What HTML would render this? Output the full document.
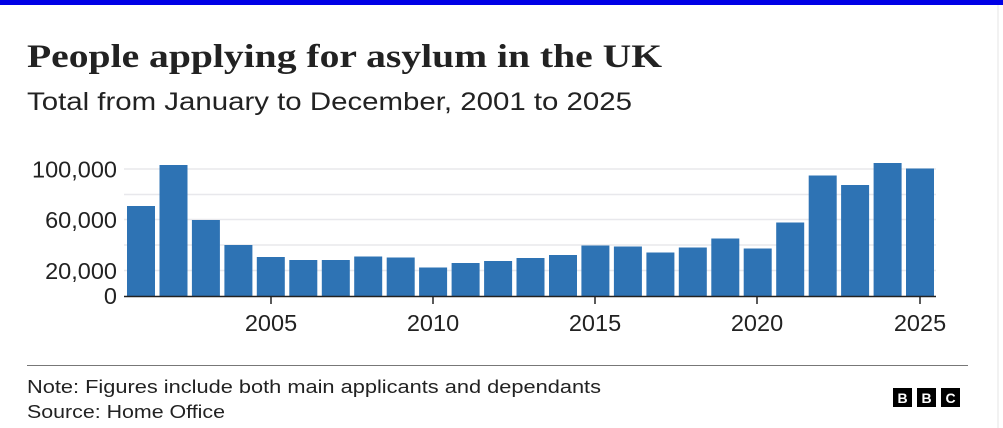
<!DOCTYPE html>
<html><head><meta charset="utf-8"><style>
html,body{margin:0;padding:0;background:#fff;width:1003px;height:428px;overflow:hidden}
</style></head><body>
<svg width="1003" height="428" viewBox="0 0 1003 428" xmlns="http://www.w3.org/2000/svg" font-family="Liberation Sans, sans-serif">
<rect x="0" y="0" width="1003" height="5" fill="#0000e6"/>
<line x1="998" y1="5" x2="998" y2="428" stroke="#e4e4e4" stroke-width="1"/>
<text x="27" y="67" font-family="Liberation Serif, serif" font-weight="bold" font-size="33" fill="#222" textLength="635" lengthAdjust="spacingAndGlyphs">People applying for asylum in the UK</text>
<text x="27" y="110" font-size="25" fill="#222" textLength="605" lengthAdjust="spacingAndGlyphs">Total from January to December, 2001 to 2025</text>
<g stroke="#e8e8ec" stroke-width="1.5">
<line x1="124" y1="169" x2="936" y2="169"/>
<line x1="124" y1="194.5" x2="936" y2="194.5"/>
<line x1="124" y1="219.5" x2="936" y2="219.5"/>
<line x1="124" y1="245" x2="936" y2="245"/>
<line x1="124" y1="270.5" x2="936" y2="270.5"/>
</g>
<g font-size="23.5" fill="#222" text-anchor="end">
<text x="117" y="177.5">100,000</text>
<text x="117" y="228">60,000</text>
<text x="117" y="279">20,000</text>
<text x="117" y="304">0</text>
</g>
<g fill="#2e73b4" id="bars"></g>
<line x1="124" y1="296.5" x2="936" y2="296.5" stroke="#222" stroke-width="1.5"/>
<g stroke="#222" stroke-width="1.5">
<line x1="271" y1="297" x2="271" y2="304"/>
<line x1="433" y1="297" x2="433" y2="304"/>
<line x1="595" y1="297" x2="595" y2="304"/>
<line x1="757" y1="297" x2="757" y2="304"/>
<line x1="920" y1="297" x2="920" y2="304"/>
</g>
<g font-size="23.5" fill="#222" text-anchor="middle">
<text x="271" y="331">2005</text>
<text x="433" y="331">2010</text>
<text x="595" y="331">2015</text>
<text x="757" y="331">2020</text>
<text x="920" y="331">2025</text>
</g>
<line x1="27" y1="365.5" x2="968" y2="365.5" stroke="#777" stroke-width="1"/>
<text x="27" y="393" font-size="18" fill="#222" textLength="574" lengthAdjust="spacingAndGlyphs">Note: Figures include both main applicants and dependants</text>
<text x="27" y="418" font-size="18" fill="#222" textLength="198" lengthAdjust="spacingAndGlyphs">Source: Home Office</text>
<g font-size="14" font-weight="bold" fill="#fff" text-anchor="middle">
<rect x="893" y="388" width="19" height="19" fill="#000"/><text x="902.5" y="403">B</text>
<rect x="917" y="388" width="19" height="19" fill="#000"/><text x="926.5" y="403">B</text>
<rect x="941" y="388" width="19" height="19" fill="#000"/><text x="950.5" y="403">C</text>
</g>
</svg>
<script>
var tops=[206,165,220,245,257,260,260,256.5,257.5,267.5,263,261,258,255,245.5,246.5,252.5,247.5,238.5,248.5,222.5,175.5,185,163,168.5];
var g=document.getElementById('bars'),s='';
for(var i=0;i<tops.length;i++){var x=127+i*32.46;
s+='<rect x="'+x.toFixed(1)+'" y="'+tops[i]+'" width="28" height="'+(296-tops[i])+'"/>';}
g.innerHTML=s;
</script>
</body></html>
